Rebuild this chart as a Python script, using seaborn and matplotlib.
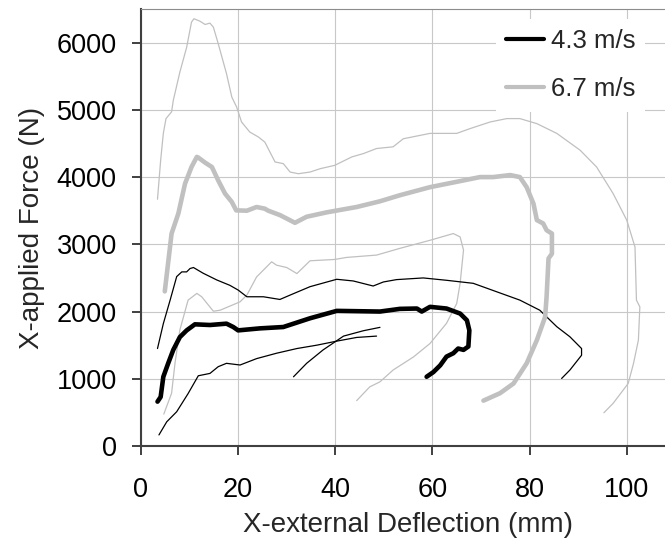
from matplotlib import pyplot as plt
import numpy as np
import seaborn as sns

# 4.3 m/s : mean curve (thick black) and corridor bounds (thin black)
slow_mean_x = [3.4, 4.05, 4.6, 5.6, 6.65, 8.0, 9.4, 11.1, 14.2, 17.6, 19.0, 20.0, 24.5, 29.3, 34.8,
               40.3, 49.2, 53.3, 56.8, 57.8, 59.5, 62.9, 65.7, 67.1, 67.6, 67.4, 66.4, 65.3, 64.3,
               62.9, 61.6, 60.2, 58.8]
slow_mean_y = [660, 730, 1030, 1230, 1430, 1620, 1720, 1810, 1800, 1820, 1770, 1720, 1750, 1770, 1900,
               2010, 2000, 2040, 2045, 2000, 2070, 2045, 1970, 1870, 1720, 1480, 1430, 1450, 1380,
               1330, 1200, 1100, 1030]

slow_upper_x = [3.4, 4.6, 6.0, 7.35, 8.4, 9.4, 10.1, 10.8, 12.8, 15.6, 18.3, 20.0, 21.8, 25.2, 28.6,
                30.7, 34.8, 40.3, 43.7, 47.8, 49.9, 52.6, 58.1, 62.9, 68.4, 73.2, 78.0, 82.1, 85.6,
                88.3, 90.7, 90.7, 88.3, 86.6]
slow_upper_y = [1450, 1820, 2170, 2520, 2590, 2590, 2640, 2655, 2570, 2470, 2390, 2320, 2220, 2220, 2180,
                2245, 2370, 2480, 2455, 2380, 2440, 2475, 2500, 2465, 2420, 2295, 2170, 2020, 1775,
                1625, 1450, 1350, 1130, 1005]

slow_lower_x = [3.7, 5.3, 7.35, 9.7, 11.8, 14.2, 15.9, 17.6, 20.4, 23.8, 27.9, 32.1, 36.2, 40.3, 44.4, 48.5]
slow_lower_y = [165, 360, 510, 780, 1045, 1080, 1180, 1230, 1205, 1300, 1380, 1450, 1500, 1560, 1615, 1635]

slow_lower2_x = [31.4, 34.1, 37.5, 41.7, 45.8, 49.2]
slow_lower2_y = [1030, 1230, 1430, 1635, 1715, 1765]

# 6.7 m/s : mean curve (thick grey) and corridor bounds (thin grey)
fast_mean_x = [4.9, 6.3, 7.7, 9.06, 10.4, 11.5, 11.8, 13.2, 14.6, 15.9, 17.3, 18.7, 19.6, 21.8, 23.8,
               25.5, 26.2, 28.6, 31.7, 34.1, 38.2, 44.4, 49.2, 53.3, 59.5, 65.0, 69.8, 72.5, 76.0,
               78.0, 79.4, 80.8, 81.5, 82.8, 83.5, 84.6, 84.6, 83.9, 83.5, 83.2, 81.5, 79.4, 76.7,
               73.9, 70.5]
fast_mean_y = [2300, 3160, 3460, 3900, 4150, 4300, 4290, 4215, 4150, 3950, 3755, 3630, 3505, 3500, 3555,
               3530, 3500, 3435, 3320, 3410, 3475, 3555, 3640, 3730, 3850, 3930, 4000, 4000, 4030,
               4000, 3850, 3605, 3360, 3310, 3210, 3160, 2860, 2790, 2220, 1920, 1575, 1230, 930,
               785, 675]

fast_upper_x = [3.4, 4.05, 4.6, 5.15, 6.3, 6.65, 8.0, 9.4, 10.4, 10.9, 12.1, 13.2, 14.2, 14.9, 15.9,
                17.6, 18.7, 19.7, 20.7, 22.4, 24.2, 25.5, 27.6, 29.3, 30.7, 32.4, 34.8, 36.9, 39.9,
                43.4, 45.8, 48.5, 51.9, 54.0, 59.5, 65.0, 67.7, 71.9, 75.3, 78.0, 81.5, 85.6, 90.4,
                93.8, 97.2, 100.0, 101.7, 102.0, 102.7, 102.4, 101.4, 100.3, 97.2, 95.3]
fast_upper_y = [3670, 4250, 4650, 4870, 4970, 5140, 5560, 5930, 6305, 6355, 6320, 6270, 6290, 6230, 5985,
                5540, 5190, 5040, 4820, 4670, 4595, 4520, 4225, 4200, 4075, 4050, 4075, 4125, 4175,
                4300, 4350, 4425, 4450, 4570, 4650, 4650, 4720, 4820, 4870, 4870, 4795, 4650, 4400,
                4150, 3755, 3360, 2960, 2170, 2070, 1575, 1230, 930, 635, 495]

fast_lower_x = [4.7, 6.3, 7.0, 8.0, 9.7, 11.5, 12.5, 14.9, 16.3, 20.4, 21.8, 23.8, 26.9, 27.9, 30.0,
                32.1, 34.8, 39.9, 42.3, 48.5, 53.3, 59.5, 64.3, 65.7, 66.4, 65.7, 65.0, 62.9, 59.5,
                56.1, 51.9, 49.2, 47.1, 44.4]
fast_lower_y = [475, 785, 1230, 1725, 2170, 2270, 2220, 2005, 2020, 2145, 2245, 2515, 2740, 2690, 2655,
                2565, 2755, 2775, 2805, 2840, 2940, 3060, 3160, 3110, 2915, 2420, 2120, 1825, 1525,
                1325, 1130, 955, 880, 675]

legend_labels = ["4.3 m/s", "6.7 m/s"]

sns.set_style("white")
plt.rcParams["font.family"] = ["Liberation Sans", "DejaVu Sans"]

black = "#000000"
grey = "#c0c0c0"
thin = 0.9
thick = 3.3

fig = plt.figure(figsize=(6.65, 5.39), dpi=100)
ax = fig.add_axes([0.212, 0.1725, 0.8035, 0.8108])

# thin corridor lines first, thick means on top
for xs, ys, c in [
    (fast_upper_x, fast_upper_y, grey),
    (fast_lower_x, fast_lower_y, grey),
    (slow_upper_x, slow_upper_y, black),
    (slow_lower_x, slow_lower_y, black),
    (slow_lower2_x, slow_lower2_y, black),
]:
    sns.lineplot(x=xs, y=ys, sort=False, estimator=None, color=c, linewidth=thin, ax=ax)

sns.lineplot(x=fast_mean_x, y=fast_mean_y, sort=False, estimator=None, color=grey,
             linewidth=thick, ax=ax, solid_capstyle="round")
sns.lineplot(x=slow_mean_x, y=slow_mean_y, sort=False, estimator=None, color=black,
             linewidth=thick, ax=ax, solid_capstyle="round")

ax.set_xlim(0, 110)
ax.set_ylim(0, 6500)
ax.set_xticks(np.arange(0, 101, 20))
ax.set_yticks(np.arange(0, 6001, 1000))
ax.grid(True, color="#c8c8c8", linewidth=0.8)
ax.set_axisbelow(True)

ax.spines["right"].set_visible(False)
ax.spines["top"].set_color("#8c8c8c")
ax.spines["top"].set_linewidth(0.8)
for side in ["left", "bottom"]:
    ax.spines[side].set_color("#404040")
    ax.spines[side].set_linewidth(1.5)

ax.tick_params(axis="both", direction="out", length=6.5, width=1.2, color="#202020",
               labelsize=19.5, labelcolor="black")
ax.tick_params(axis="y", pad=11, left=True)
ax.tick_params(axis="x", pad=16, bottom=True)

ax.set_xlabel("X-external Deflection (mm)", fontsize=20, labelpad=6)
ax.set_ylabel("X-applied Force (N)", fontsize=20, labelpad=8)

handles = [
    plt.Line2D([], [], color=black, linewidth=3),
    plt.Line2D([], [], color=grey, linewidth=3),
]
leg = ax.legend(handles, legend_labels, loc="upper left", bbox_to_anchor=(0.6644, 0.978),
                fontsize=18.5, frameon=True, fancybox=False, framealpha=1.0, edgecolor="white",
                handlelength=1.48, handletextpad=0.25, labelspacing=0.95, borderpad=0.4,
                borderaxespad=0)
leg.get_frame().set_linewidth(0)

fig.savefig("out.png", dpi=100)
